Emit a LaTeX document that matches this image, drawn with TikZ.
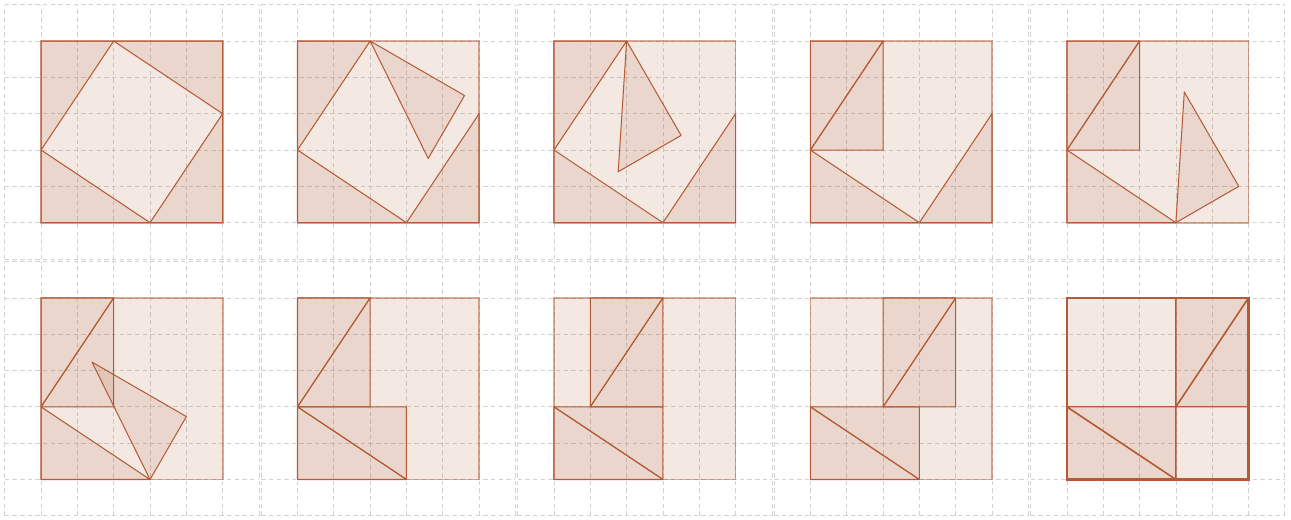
\documentclass[tikz,border=0pt]{standalone}
\usepackage{tikz}
\usepackage{xcolor}

\definecolor{clay}{RGB}{170,90,50}
\definecolor{rust}{RGB}{180,90,52}

\tikzset{
  gridline/.style={draw=gray!35, line width=0.55pt, dash pattern=on 3.5pt off 2.5pt},
  board/.style={fill=clay, fill opacity=0.14, draw=rust, draw opacity=0.5, line width=1.4pt},
  piece/.style={fill=clay, fill opacity=0.13, draw=rust, line width=0.8pt, line join=round},
}

\begin{document}
\begin{tikzpicture}
  \useasboundingbox (0,0) rectangle (35.54,14.29);

  % === GRIDS: a dashed 7x7 grid behind each panel ===
  \foreach \c in {0,...,4} {
    \foreach \y in {1.09,8.16} {
      \begin{scope}[shift={(1.13+\c*7.06,\y)}]
        \foreach \k in {-1,...,6} {
          \draw[gridline] (\k,-1) -- (\k,6);
          \draw[gridline] (-1,\k) -- (6,\k);
        }
      \end{scope}
    }
  }

  % === TOP ROW ===
  % Panel 1: four triangles round the tilted square
  \begin{scope}[shift={(1.13,8.16)}]
    \path[board] (0,0) rectangle (5,5);
    \path[piece] (0,5) -- (2,5) -- (0,2) -- cycle;
    \path[piece] (2,5) -- (5,5) -- (5,3) -- cycle;
    \path[piece] (5,3) -- (5,0) -- (3,0) -- cycle;
    \path[piece] (3,0) -- (0,0) -- (0,2) -- cycle;
  \end{scope}

  % Panel 2: top right triangle turned by 30
  \begin{scope}[shift={(8.19,8.16)}]
    \path[board] (0,0) rectangle (5,5);
    \path[piece] (0,5) -- (2,5) -- (0,2) -- cycle;
    \path[piece] (5,3) -- (5,0) -- (3,0) -- cycle;
    \path[piece] (3,0) -- (0,0) -- (0,2) -- cycle;
    \path[piece, rotate around={-30:(2,5)}] (2,5) -- (5,5) -- (5,3) -- cycle;
  \end{scope}

  % Panel 3: turned by 60
  \begin{scope}[shift={(15.25,8.16)}]
    \path[board] (0,0) rectangle (5,5);
    \path[piece] (0,5) -- (2,5) -- (0,2) -- cycle;
    \path[piece] (5,3) -- (5,0) -- (3,0) -- cycle;
    \path[piece] (3,0) -- (0,0) -- (0,2) -- cycle;
    \path[piece, rotate around={-60:(2,5)}] (2,5) -- (5,5) -- (5,3) -- cycle;
  \end{scope}

  % Panel 4: turned by 90
  \begin{scope}[shift={(22.31,8.16)}]
    \path[board] (0,0) rectangle (5,5);
    \path[piece] (0,5) -- (2,5) -- (0,2) -- cycle;
    \path[piece] (2,5) -- (2,2) -- (0,2) -- cycle;
    \path[piece] (5,3) -- (5,0) -- (3,0) -- cycle;
    \path[piece] (3,0) -- (0,0) -- (0,2) -- cycle;
  \end{scope}

  % Panel 5: lower right triangle turned by 30
  \begin{scope}[shift={(29.37,8.16)}]
    \path[board] (0,0) rectangle (5,5);
    \path[piece] (0,5) -- (2,5) -- (0,2) -- cycle;
    \path[piece] (2,5) -- (2,2) -- (0,2) -- cycle;
    \path[piece] (3,0) -- (0,0) -- (0,2) -- cycle;
    \path[piece, rotate around={30:(3,0)}] (5,3) -- (5,0) -- (3,0) -- cycle;
  \end{scope}

  % === BOTTOM ROW ===
  % Panel 6: turned by 60
  \begin{scope}[shift={(1.13,1.09)}]
    \path[board] (0,0) rectangle (5,5);
    \path[piece] (0,5) -- (2,5) -- (0,2) -- cycle;
    \path[piece] (2,5) -- (2,2) -- (0,2) -- cycle;
    \path[piece] (3,0) -- (0,0) -- (0,2) -- cycle;
    \path[piece, rotate around={60:(3,0)}] (5,3) -- (5,0) -- (3,0) -- cycle;
  \end{scope}

  % Panel 7: turned by 90
  \begin{scope}[shift={(8.19,1.09)}]
    \path[board] (0,0) rectangle (5,5);
    \path[piece] (0,5) -- (2,5) -- (0,2) -- cycle;
    \path[piece] (2,5) -- (2,2) -- (0,2) -- cycle;
    \path[piece] (3,0) -- (0,0) -- (0,2) -- cycle;
    \path[piece] (3,0) -- (3,2) -- (0,2) -- cycle;
  \end{scope}

  % Panel 8: upper rectangle slid by 1
  \begin{scope}[shift={(15.25,1.09)}]
    \path[board] (0,0) rectangle (5,5);
    \path[piece] (1,5) -- (3,5) -- (1,2) -- cycle;
    \path[piece] (3,5) -- (3,2) -- (1,2) -- cycle;
    \path[piece] (3,0) -- (0,0) -- (0,2) -- cycle;
    \path[piece] (3,0) -- (3,2) -- (0,2) -- cycle;
  \end{scope}

  % Panel 9: slid by 2
  \begin{scope}[shift={(22.31,1.09)}]
    \path[board] (0,0) rectangle (5,5);
    \path[piece] (2,5) -- (4,5) -- (2,2) -- cycle;
    \path[piece] (4,5) -- (4,2) -- (2,2) -- cycle;
    \path[piece] (3,0) -- (0,0) -- (0,2) -- cycle;
    \path[piece] (3,0) -- (3,2) -- (0,2) -- cycle;
  \end{scope}

  % Panel 10: final, two squares left over
  \begin{scope}[shift={(29.37,1.09)}]
    \path[board] (0,0) rectangle (5,5);
    \path[piece, line width=1pt] (3,5) -- (5,5) -- (3,2) -- cycle;
    \path[piece, line width=1pt] (5,5) -- (5,2) -- (3,2) -- cycle;
    \path[piece, line width=1pt] (3,0) -- (0,0) -- (0,2) -- cycle;
    \path[piece, line width=1pt] (3,0) -- (3,2) -- (0,2) -- cycle;
    \draw[rust, line width=1.9pt] (0,0) rectangle (5,5);
  \end{scope}
\end{tikzpicture}
\end{document}
